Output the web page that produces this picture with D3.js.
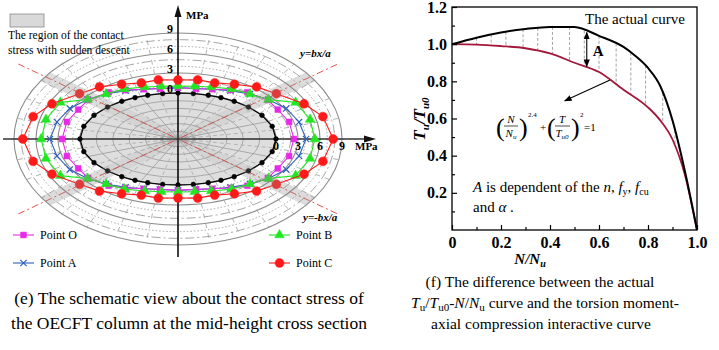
<!DOCTYPE html>
<html>
<head>
<meta charset="utf-8">
<script src="https://cdn.jsdelivr.net/npm/d3@7"></script>
<style>
body{margin:0;background:#fff;}
svg text{font-family:"Liberation Serif","Times New Roman",serif;}
</style>
</head>
<body>
<script>
var w = 719, h = 350;

// ---- (e) contact stress, one quarter of the section (symmetric) ----
var ringLevels = [1,2,3,4,5,6,7,8,9];
var stressTicks = [0,3,6,9];
// ellipse parameter angle (deg) of each measuring point and its contact stress (MPa)
var angleK = [0,16,31,44,55,64,72,81,90];
var angleO = [0,16,29,39,52,61,71,80,90];
var stressO = [2.45,2.4,2.2,2.4,2.0,1.5,1.0,0.75,0.8];
var angleA = [0,14,27,39,50,61,71,80,90];
var stressA = [4.1,3.65,3.2,2.5,1.9,1.4,1.0,0.8,0.8];
var angleB = [0,14,28,39,50,61,72,81,90];
var stressB = [5.3,5.2,4.8,2.5,1.9,1.7,1.3,1.1,1.05];
var angleC = [0,14,25,39,50,61,71,80,90];
var stressC = [7.8,7.0,5.6,3.9,3.3,2.5,2.0,2.1,1.95];

// ---- (f) Tu/Tu0 - N/Nu ----
var ratioN = [0,0.1,0.2,0.3,0.4,0.5,0.6,0.7,0.75,0.8,0.85,0.9,0.95,1.0];
var actualT = [1.0,1.035,1.063,1.082,1.093,1.092,1.045,0.985,0.935,0.872,0.775,0.59,0.32,0.0];
var ratioN2 = [0,0.1,0.2,0.3,0.4,0.5,0.6,0.7,0.8,0.85,0.9,0.95,1.0];
var formulaT = [1.0,0.998,0.99,0.978,0.95,0.9,0.85,0.755,0.66,0.59,0.487,0.3,0.0];
var hatchN = [0.1,0.16,0.22,0.29,0.35,0.41,0.48,0.54,0.6,0.67,0.73,0.79,0.86,0.91];
var yTicks = [0.2,0.4,0.6,0.8,1.0,1.2];
var xTicks = [0,0.2,0.4,0.6,0.8,1.0];

var svg = d3.select("body").append("svg")
	.attr("width", w)
	.attr("height", h);

var defs = svg.append("defs");
defs.append("marker").attr("id","ah")
	.attr("viewBox","0 0 10 10").attr("refX",9).attr("refY",5)
	.attr("markerWidth",7).attr("markerHeight",7).attr("orient","auto-start-reverse")
	.append("path").attr("d","M0,1L10,5L0,9z").attr("fill","#000");

// ================= left panel =================
var cx = 178, cy = 139;
var rX = d3.scaleLinear().domain([0,9]).range([98,164]);
var rY = d3.scaleLinear().domain([0,9]).range([46,106]);

defs.append("clipPath").attr("id","outer")
	.append("ellipse").attr("cx",0).attr("cy",0).attr("rx",rX(9)).attr("ry",rY(9));

var g = svg.append("g").attr("transform","translate("+cx+","+cy+")");

function ePoint(t, s){
	var a = t*Math.PI/180;
	return [rX(s)*Math.cos(a), -rY(s)*Math.sin(a)];
}

// section fill
g.append("ellipse").attr("rx",rX(0)).attr("ry",rY(0)).attr("fill","#dedede");

// inner web
[1,2,3,4,5].forEach(function(k){
	g.append("ellipse").attr("rx",rX(0)*k/6).attr("ry",rY(0)*k/6)
		.attr("fill","none").attr("stroke","#9a9a9a").attr("stroke-width",0.8);
});
d3.range(0,360,22.5).forEach(function(t){
	var p = ePoint(t,0);
	g.append("line").attr("x2",p[0]).attr("y2",p[1])
		.attr("stroke","#9a9a9a").attr("stroke-width",0.8);
	var q = ePoint(t+11.25,0);
	g.append("line").attr("x2",q[0]).attr("y2",q[1])
		.attr("stroke","#a8a8a8").attr("stroke-width",0.8).attr("stroke-dasharray","4,3");
});

// stress rings
ringLevels.forEach(function(s){
	var st = s%3==0 ? null : (s%3==2 ? "9,3,2,3" : "1.5,2");
	g.append("ellipse").attr("rx",rX(s)).attr("ry",rY(s))
		.attr("fill","none").attr("stroke", s%3==0 ? "#8c8c8c" : "#9c9c9c")
		.attr("stroke-width", s%3==0 ? 1.1 : 0.9)
		.attr("stroke-dasharray", st);
});
// radial dashes outside section
d3.range(0,360,11.25).forEach(function(t){
	var p0 = ePoint(t,0), p1 = ePoint(t,9);
	g.append("line").attr("x1",p0[0]).attr("y1",p0[1]).attr("x2",p1[0]).attr("y2",p1[1])
		.attr("stroke","#a0a0a0").attr("stroke-width",0.8).attr("stroke-dasharray","5,5");
});

g.append("ellipse").attr("rx",rX(0)).attr("ry",rY(0))
	.attr("fill","none").attr("stroke","#6a6a6a").attr("stroke-width",1.3);

// y = ±bx/a
[1,-1].forEach(function(sg){
	var k = 1.63;
	g.append("line")
		.attr("x1",-k*rX(0)).attr("y1",sg*k*rY(0))
		.attr("x2",k*rX(0)).attr("y2",-sg*k*rY(0))
		.attr("stroke","#e8403a").attr("stroke-width",0.9)
		.attr("stroke-dasharray","7,3,2,3");
});

// axes
g.append("line").attr("x1",-175).attr("x2",192).attr("stroke","#333").attr("stroke-width",1.6);
g.append("path").attr("d","M198,0L186,-3.5L186,3.5Z").attr("fill","#111");
g.append("line").attr("y1",118).attr("y2",-128).attr("stroke","#111").attr("stroke-width",1.6);
g.append("path").attr("d","M0,-134L-3.5,-122L3.5,-122Z").attr("fill","#111");

// stress curves
function loop(angles, stresses){
	var pts = [], n = angles.length, i;
	for(i=0;i<n;i++) pts.push([angles[i], stresses[i]]);
	for(i=n-2;i>=0;i--) pts.push([180-angles[i], stresses[i]]);
	for(i=1;i<n;i++) pts.push([180+angles[i], stresses[i]]);
	for(i=n-2;i>0;i--) pts.push([360-angles[i], stresses[i]]);
	return pts;
}
var series = [
	{angles:angleK, stress:angleK.map(function(){return 0;}), color:"#000", sym:d3.symbolCircle, size:18, fill:true},
	{angles:angleA, stress:stressA, color:"#2f62b8", sym:d3.symbolX, size:28, fill:false},
	{angles:angleO, stress:stressO, color:"#e82ae8", sym:d3.symbolSquare, size:34, fill:true},
	{angles:angleB, stress:stressB, color:"#22e622", sym:d3.symbolTriangle, size:40, fill:true},
	{angles:angleC, stress:stressC, color:"#ff1a1a", sym:d3.symbolCircle, size:62, fill:true}
];
var line = d3.line().curve(d3.curveLinearClosed);
series.forEach(function(sr){
	var pts = loop(sr.angles, sr.stress).map(function(d){return ePoint(d[0], d[1]);});
	g.append("path").attr("d", line(pts)).attr("fill","none")
		.attr("stroke", sr.color).attr("stroke-width",1.1);
	g.selectAll(null).data(pts).enter().append("path")
		.attr("transform", function(d){return "translate("+d[0]+","+d[1]+")";})
		.attr("d", d3.symbol().type(sr.sym).size(sr.size))
		.attr("fill", sr.fill ? sr.color : "none")
		.attr("stroke", sr.color).attr("stroke-width", sr.fill ? 0.5 : 1.2);
});

// shaded bands of sudden stress descent
var bandAng = Math.atan2(rY(0), rX(0))*180/Math.PI;
var bands = g.append("g").attr("clip-path","url(#outer)");
[-bandAng, bandAng, 180-bandAng, 180+bandAng].forEach(function(a){
	bands.append("rect").attr("x",0).attr("y",-6).attr("width",74).attr("height",12)
		.attr("transform","rotate("+a+")")
		.attr("fill","#8a8a8a").attr("opacity",0.12);
	bands.append("rect").attr("x",74).attr("y",-6).attr("width",130).attr("height",12)
		.attr("transform","rotate("+a+")")
		.attr("fill","#8a8a8a").attr("opacity",0.3);
});

// tick labels
g.selectAll(".vt").data(stressTicks).enter().append("text")
	.attr("x",-8).attr("y",function(d){return -rY(d);})
	.attr("text-anchor","middle").attr("font-size",12).attr("font-weight","bold")
	.text(function(d){return d;});
g.selectAll(".ht").data(stressTicks).enter().append("text")
	.attr("x",function(d){return rX(d);}).attr("y",11)
	.attr("text-anchor","middle").attr("font-size",12).attr("font-weight","bold")
	.text(function(d){return d;});
svg.append("text").attr("x",186).attr("y",19).attr("font-size",11).attr("font-weight","bold").text("MPa");
svg.append("text").attr("x",355).attr("y",150).attr("font-size",11).attr("font-weight","bold").text("MPa");

svg.append("text").attr("x",300).attr("y",57).attr("font-size",11)
	.attr("font-weight","bold").attr("font-style","italic").text("y=bx/a");
svg.append("text").attr("x",303).attr("y",221).attr("font-size",11)
	.attr("font-weight","bold").attr("font-style","italic").text("y=-bx/a");

// region legend
svg.append("rect").attr("x",10).attr("y",14).attr("width",34).attr("height",13)
	.attr("fill","#d9d9d9").attr("stroke","#8a8a8a").attr("stroke-width",0.8);
svg.append("text").attr("x",8).attr("y",39).attr("font-size",11.5).text("The region of the contact");
svg.append("text").attr("x",8).attr("y",54).attr("font-size",11.5).text("stress with sudden descent");

// point legend
var legend = [
	{label:"Point O", s:series[2], x:13, y:235},
	{label:"Point A", s:series[1], x:13, y:263},
	{label:"Point B", s:series[3], x:269, y:235},
	{label:"Point C", s:series[4], x:269, y:263}
];
legend.forEach(function(l){
	svg.append("line").attr("x1",l.x).attr("x2",l.x+21).attr("y1",l.y).attr("y2",l.y)
		.attr("stroke", l.s.color).attr("stroke-width",1.1);
	svg.append("path").attr("transform","translate("+(l.x+10.5)+","+l.y+")")
		.attr("d", d3.symbol().type(l.s.sym).size(l.s.size))
		.attr("fill", l.s.fill ? l.s.color : "none")
		.attr("stroke", l.s.color).attr("stroke-width", l.s.fill ? 0.5 : 1.2);
	svg.append("text").attr("x",l.x+27).attr("y",l.y+4).attr("font-size",12).text(l.label);
});

// caption (e)
svg.append("text").attr("x",189).attr("y",304).attr("text-anchor","middle").attr("font-size",17.5)
	.text("(e) The schematic view about the contact stress of");
svg.append("text").attr("x",189).attr("y",329).attr("text-anchor","middle").attr("font-size",17.5)
	.text("the OECFT column at the mid-height cross section");

// ================= right panel =================
var x = d3.scaleLinear().domain([0,1]).range([452,697]);
var y = d3.scaleLinear().domain([0,1.2]).range([230,7]);
var actual = d3.scaleLinear().domain(ratioN).range(actualT);
var interact = d3.scaleLinear().domain(ratioN2).range(formulaT);

svg.selectAll(".hatch").data(hatchN).enter().append("line")
	.attr("x1",function(d){return x(d);}).attr("x2",function(d){return x(d);})
	.attr("y1",function(d){return y(actual(d));}).attr("y2",function(d){return y(interact(d));})
	.attr("stroke","#8a8a8a").attr("stroke-width",0.8).attr("stroke-dasharray","3,2");

var cl = d3.line().x(function(d){return x(d[0]);}).y(function(d){return y(d[1]);}).curve(d3.curveMonotoneX);
svg.append("path").attr("d", cl(d3.zip(ratioN2, formulaT)))
	.attr("fill","none").attr("stroke","#a3183a").attr("stroke-width",1.8);
svg.append("path").attr("d", cl(d3.zip(ratioN, actualT)))
	.attr("fill","none").attr("stroke","#000").attr("stroke-width",2);

// axes
var ya = svg.append("g").attr("transform","translate("+x(0)+",0)")
	.call(d3.axisLeft(y).tickValues(yTicks).tickSize(-5).tickPadding(5).tickFormat(d3.format(".1f")));
svg.append("g").attr("transform","translate("+x(0)+",0)")
	.call(d3.axisLeft(y).tickValues([0.1,0.3,0.5,0.7,0.9,1.1]).tickSize(-3).tickFormat(""));
var xa = svg.append("g").attr("transform","translate(0,"+y(0)+")")
	.call(d3.axisBottom(x).tickValues(xTicks).tickSize(-5).tickPadding(7)
		.tickFormat(function(d){return d==0 ? "0" : d3.format(".1f")(d);}));
svg.append("g").attr("transform","translate(0,"+y(0)+")")
	.call(d3.axisBottom(x).tickValues([0.1,0.3,0.5,0.7,0.9]).tickSize(-3).tickFormat(""));
svg.selectAll(".domain").remove();
svg.selectAll(".tick line").attr("stroke","#000").attr("stroke-width",1.2);
[ya, xa].forEach(function(a){
	a.selectAll("text").attr("font-family","Liberation Serif, Times New Roman, serif")
		.attr("font-size",16).attr("font-weight","bold").attr("fill","#000");
});
svg.append("rect").attr("x",x(0)).attr("y",y(1.2)).attr("width",x(1)-x(0)).attr("height",y(0)-y(1.2))
	.attr("fill","none").attr("stroke","#000").attr("stroke-width",1.3);

// axis titles
var yt = svg.append("text").attr("transform","translate(425,119) rotate(-90)")
	.attr("text-anchor","middle").attr("font-size",17).attr("font-weight","bold").attr("font-style","italic");
yt.append("tspan").text("T");
yt.append("tspan").attr("font-size",11).attr("dy",4).text("u");
yt.append("tspan").attr("dy",-4).text("/T");
yt.append("tspan").attr("font-size",11).attr("dy",4).text("u0");

var xt = svg.append("text").attr("x",530).attr("y",264).attr("text-anchor","middle")
	.attr("font-size",15).attr("font-weight","bold").attr("font-style","italic");
xt.append("tspan").text("N/N");
xt.append("tspan").attr("font-size",10).attr("dy",3).text("u");

// annotations
svg.append("text").attr("x",585).attr("y",24).attr("font-size",15).text("The actual curve");
var aN = 0.55;
svg.append("line").attr("x1",x(aN)).attr("x2",x(aN))
	.attr("y1",y(actual(aN))+1).attr("y2",y(interact(aN))-1)
	.attr("stroke","#000").attr("stroke-width",1.1)
	.attr("marker-start","url(#ah)").attr("marker-end","url(#ah)");
svg.append("text").attr("x",x(aN)+6).attr("y",56).attr("font-size",15).attr("font-weight","bold").text("A");

var pN = 0.645;
svg.append("line").attr("x1",x(pN)).attr("y1",y(interact(pN)))
	.attr("x2",x(0.46)).attr("y2",y(0.695))
	.attr("stroke","#000").attr("stroke-width",1.1).attr("marker-end","url(#ah)");

// interaction formula
var f = svg.append("g").attr("transform","translate(496,0)");
function ftxt(xx, yy, size, txt, italic, anchor){
	return f.append("text").attr("x",xx).attr("y",yy).attr("font-size",size)
		.attr("font-style", italic ? "italic" : null)
		.attr("text-anchor", anchor || "start").text(txt);
}
ftxt(0,136,26,"(");
ftxt(15,123,11,"N",true,"middle");
f.append("line").attr("x1",8).attr("x2",22).attr("y1",126).attr("y2",126).attr("stroke","#000").attr("stroke-width",0.7);
var d1 = ftxt(15,137,11,"N",true,"middle");
d1.append("tspan").attr("font-size",7).attr("dy",2).text("u");
ftxt(23,136,26,")");
ftxt(32,117,7,"2.4");
ftxt(44,131,11,"+");
ftxt(51,136,26,"(");
ftxt(66,123,11,"T",true,"middle");
f.append("line").attr("x1",59).attr("x2",74).attr("y1",126).attr("y2",126).attr("stroke","#000").attr("stroke-width",0.7);
var d2 = ftxt(66,137,11,"T",true,"middle");
d2.append("tspan").attr("font-size",7).attr("dy",2).text("u0");
ftxt(75,136,26,")");
ftxt(84,117,7,"2");
ftxt(88,131,11,"=1");

// note
var n1 = svg.append("text").attr("x",473).attr("y",192).attr("font-size",15);
n1.append("tspan").attr("font-style","italic").text("A");
n1.append("tspan").text(" is dependent of the ");
n1.append("tspan").attr("font-style","italic").text("n");
n1.append("tspan").text(", ");
n1.append("tspan").attr("font-style","italic").text("f");
n1.append("tspan").attr("font-size",10).attr("dy",3).text("y");
n1.append("tspan").attr("dy",-3).text(", ");
n1.append("tspan").attr("font-style","italic").text("f");
n1.append("tspan").attr("font-size",10).attr("dy",3).text("cu");
var n2 = svg.append("text").attr("x",473).attr("y",212).attr("font-size",15);
n2.append("tspan").text("and ");
n2.append("tspan").attr("font-style","italic").text("α");
n2.append("tspan").text(" .");

// caption (f)
svg.append("text").attr("x",540).attr("y",287).attr("text-anchor","middle").attr("font-size",15.5)
	.text("(f) The difference between the actual");
var c2 = svg.append("text").attr("x",545).attr("y",308).attr("text-anchor","middle").attr("font-size",15.5);
c2.append("tspan").attr("font-style","italic").text("T");
c2.append("tspan").attr("font-size",11).attr("dy",3).text("u");
c2.append("tspan").attr("dy",-3).text("/");
c2.append("tspan").attr("font-style","italic").text("T");
c2.append("tspan").attr("font-size",11).attr("dy",3).text("u0");
c2.append("tspan").attr("dy",-3).text("-");
c2.append("tspan").attr("font-style","italic").text("N");
c2.append("tspan").text("/");
c2.append("tspan").attr("font-style","italic").text("N");
c2.append("tspan").attr("font-size",11).attr("dy",3).text("u");
c2.append("tspan").attr("dy",-3).text(" curve and the torsion moment-");
svg.append("text").attr("x",541).attr("y",329).attr("text-anchor","middle").attr("font-size",15.5)
	.text("axial compression interactive curve");
</script>
</body>
</html>
